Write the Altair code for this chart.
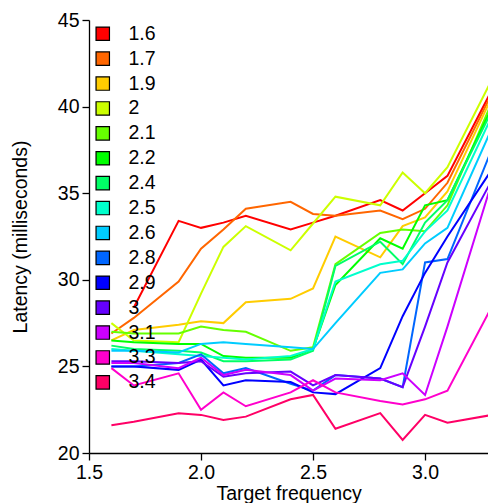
import altair as alt
import pandas as pd

# Target frequencies (x positions)
freqs = [1.6, 1.7, 1.9, 2.0, 2.1, 2.2, 2.4, 2.5, 2.6, 2.8, 2.9, 3.0, 3.1, 3.3, 3.4]

# Series names (legend) and colours (rainbow)
series_names = ["1.6", "1.7", "1.9", "2", "2.1", "2.2", "2.4", "2.5", "2.6",
                "2.8", "2.9", "3", "3.1", "3.3", "3.4"]
series_colors = ["#FF0000", "#FF6600", "#FFCC00", "#CCFF00", "#66FF00", "#00FF00",
                 "#00FF66", "#00FFCC", "#00CCFF", "#0066FF", "#0000FF", "#6600FF",
                 "#CC00FF", "#FF00CC", "#FF0066"]

# Latency (milliseconds) per series, one value per target frequency
lat_1_6 = [None, 28.4, 33.4, 33.0, 33.3, 33.7, 32.9, 33.3, 33.7, 34.6, 34.0, 35.0, 36.0, 41.0, 43.5]
lat_1_7 = [26.9, 27.8, 29.9, 31.8, 32.9, 34.1, 34.5, 33.8, 33.7, 34.0, 33.5, 34.1, 35.6, 40.8, 43.3]
lat_1_9 = [26.5, 27.1, 27.4, 27.6, 27.5, 28.7, 28.9, 29.5, 32.5, 31.3, 33.1, 33.6, 35.1, 40.6, 43.2]
lat_2_0 = [27.5, 26.5, 26.4, 29.2, 31.9, 33.1, 31.7, 33.25, 34.8, 34.3, 36.2, 35.0, 36.5, 41.6, 44.0]
lat_2_1 = [27.0, 26.9, 26.9, 27.3, 27.1, 27.0, 25.9, 26.1, 30.9, 32.7, 32.9, 32.8, 34.3, 40.3, 43.0]
lat_2_2 = [26.5, 26.4, 26.3, 26.3, 25.6, 25.5, 25.5, 26.0, 29.7, 32.4, 31.8, 34.3, 34.6, 40.0, 42.8]
lat_2_4 = [26.2, 26.0, 25.9, 25.8, 25.3, 25.3, 25.4, 25.9, 30.8, 32.2, 30.9, 33.3, 34.6, 39.8, 42.5]
lat_2_5 = [26.0, 25.9, 25.7, 25.6, 25.5, 25.4, 25.6, 26.0, 29.9, 30.9, 31.1, 32.8, 34.0, 39.5, 42.2]
lat_2_6 = [25.9, 25.9, 25.8, 26.3, 26.4, 26.3, 26.1, 26.0, 27.5, 30.4, 30.6, 32.1, 33.0, 38.8, 41.8]
lat_2_8 = [25.0, 25.0, 25.2, 25.7, 24.6, 24.9, 24.0, 23.6, 24.5, 24.3, 23.8, 31.0, 31.2, 37.6, 41.0]
lat_2_9 = [25.0, 25.0, 24.8, 25.4, 23.9, 24.2, 24.1, 23.5, 23.4, 24.9, 27.9, 30.4, 32.5, 36.4, 40.0]
lat_3_0 = [25.3, 25.3, 25.2, 25.3, 24.4, 24.6, 24.7, 23.9, 24.5, 24.3, 23.8, 27.3, 31.0, 35.8, 39.5]
lat_3_1 = [25.2, 25.2, 24.9, 25.5, 24.5, 24.8, 24.5, 23.6, 24.3, 24.2, 24.6, 23.35, 27.3, 35.7, 39.0]
lat_3_3 = [24.9, 23.9, 24.6, 22.5, 23.5, 22.7, 23.5, 24.2, 23.5, 23.0, 22.8, 23.1, 23.6, 28.5, 31.0]
lat_3_4 = [21.6, 21.8, 22.3, 22.2, 21.9, 22.1, 23.1, 23.35, 21.4, 22.3, 20.75, 22.2, 21.75, 22.2, 22.5]

all_series = [lat_1_6, lat_1_7, lat_1_9, lat_2_0, lat_2_1, lat_2_2, lat_2_4, lat_2_5,
              lat_2_6, lat_2_8, lat_2_9, lat_3_0, lat_3_1, lat_3_3, lat_3_4]

rows = []
for idx, (name, vals) in enumerate(zip(series_names, all_series)):
    for f, v in zip(freqs, vals):
        if v is not None:
            rows.append({"series": name, "order": idx, "freq": f, "latency": v})
df = pd.DataFrame(rows)

FONT = "Liberation Sans"
FS = 19.5

x_scale = alt.Scale(domain=[1.5, 3.281], nice=False, zero=False)
y_scale = alt.Scale(domain=[20, 45], nice=False, zero=False)

x_enc = alt.X("freq:Q", scale=x_scale,
              axis=alt.Axis(values=[1.5, 2.0, 2.5, 3.0], format=".1f",
                            labelFlush=False, labelOverlap=False,
                            title="Target frequency", titleY=46,
                            titleBaseline="alphabetic"))
y_enc = alt.Y("latency:Q", scale=y_scale,
              axis=alt.Axis(values=[20, 25, 30, 35, 40, 45], format="d",
                            labelFlush=False, labelOverlap=False,
                            title="Latency (milliseconds)", titleX=-69, titleY=216.5,
                            titleAngle=-90, titleAlign="center", titleBaseline="middle"))

lines = alt.Chart(df).mark_line(strokeWidth=2, clip=True).encode(
    x=x_enc,
    y=y_enc,
    color=alt.Color("series:N", scale=alt.Scale(domain=series_names, range=series_colors),
                    legend=None),
    detail="order:O",
)

legend_layer = alt.Chart(df).mark_square(
    filled=True, stroke="black", strokeWidth=1, opacity=0, size=10, clip=True
).encode(
    x=alt.X("freq:Q", scale=x_scale),
    y=alt.Y("latency:Q", scale=y_scale),
    color=alt.Color("series:N", scale=alt.Scale(domain=series_names, range=series_colors),
                    legend=alt.Legend(title=None, orient="none", legendX=4, legendY=4,
                                      padding=0, symbolType="square", symbolSize=180,
                                      symbolStrokeColor="black", symbolStrokeWidth=1.2,
                                      symbolOpacity=1, labelFontSize=FS, labelFont=FONT,
                                      labelColor="black", labelOffset=16, rowPadding=3.9,
                                      labelLimit=200)),
)

chart = alt.layer(lines, legend_layer).resolve_scale(
    color="independent"
).resolve_legend(
    color="independent"
).properties(
    width=399, height=433,
    autosize=alt.AutoSizeParams(type="none"),
    padding={"left": 81, "top": 12, "right": 0, "bottom": 50},
).configure_view(stroke=None).configure_axis(
    grid=False, domainColor="black", domainWidth=1.3, tickColor="black", tickWidth=1.3,
    tickSize=7, labelFont=FONT, labelFontSize=FS, labelColor="black", labelPadding=3,
    titleFont=FONT, titleFontSize=FS, titleColor="black", titleFontWeight="normal",
).configure_axisY(labelAngle=0)

chart.save("out.html", embed_options={"renderer": "svg", "actions": False})
